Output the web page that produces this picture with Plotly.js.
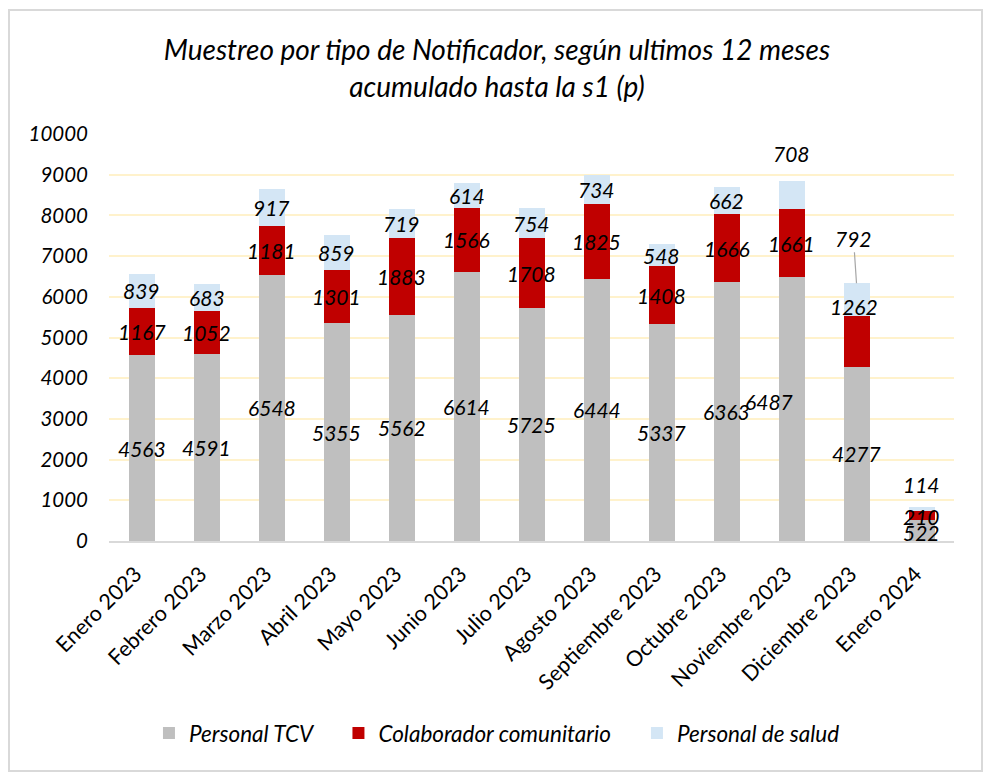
<!DOCTYPE html>
<html>
<head>
<meta charset="utf-8">
<script src="https://cdn.plot.ly/plotly-3.0.1.min.js"></script>
<style>
  html, body { margin: 0; padding: 0; background: #ffffff; }
  #wrap { position: relative; width: 988px; height: 772px; }
  #chart { position: absolute; left: 0; top: 0; width: 988px; height: 772px; }
  #frame { position: absolute; left: 8px; top: 9px; width: 975px; height: 763px;
           box-sizing: border-box; border: 2px solid #D9D9D9; pointer-events: none; }
</style>
</head>
<body>
<div id="wrap">
  <div id="chart"></div>
  <div id="frame"></div>
</div>
<script>
// ---- Data ----
const categories = ["Enero 2023", "Febrero 2023", "Marzo 2023", "Abril 2023", "Mayo 2023",
  "Junio 2023", "Julio 2023", "Agosto 2023", "Septiembre 2023", "Octubre 2023",
  "Noviembre 2023", "Diciembre 2023", "Enero 2024"];
const personalTCV = [4563, 4591, 6548, 5355, 5562, 6614, 5725, 6444, 5337, 6363, 6487, 4277, 522];
const colaboradorComunitario = [1167, 1052, 1181, 1301, 1883, 1566, 1708, 1825, 1408, 1666, 1661, 1262, 210];
const personalSalud = [839, 683, 917, 859, 719, 614, 754, 734, 548, 662, 708, 792, 114];
const seriesNames = ["Personal TCV", "Colaborador comunitario", "Personal de salud"];
const yTicks = [0, 1000, 2000, 3000, 4000, 5000, 6000, 7000, 8000, 9000, 10000];

// ---- Styles ----
const colors = ["#BFBFBF", "#C00000", "#D4E6F5"];
const FONT = "Lato, 'Open Sans', sans-serif";
const labelFont = { family: FONT, size: 21, color: "#000000", style: "italic" };
const legendPad = ["\u00a0\u00a0\u00a0\u00a0", "\u00a0\u00a0\u00a0\u00a0", ""];

const seriesValues = [personalTCV, colaboradorComunitario, personalSalud];

const traces = seriesValues.map((vals, s) => ({
  type: "bar",
  name: seriesNames[s] + legendPad[s],
  x: categories,
  y: vals,
  marker: { color: colors[s], line: { width: 0 } },
  hoverinfo: "skip"
}));

// label manual offsets (pixels) for labels moved in the original: key "series-index"
const labelShift = {
  "2-10": [0, 41],
  "0-10": [-23, 7],
  "1-11": [-3, 35],
  "2-12": [0, 24],
  "1-12": [0, -1],
  "0-12": [0, -2]
};

const annotations = [];
categories.forEach((cat, i) => {
  let base = 0;
  seriesValues.forEach((vals, s) => {
    const v = vals[i];
    const key = s + "-" + i;
    if (s === 2 && i === 11) {
      // leader-line label
      annotations.push({
        x: cat, y: base + v, xref: "x", yref: "y",
        text: String(v), font: labelFont,
        showarrow: true, arrowhead: 0, arrowwidth: 1.2, arrowcolor: "#A6A6A6",
        ax: -3, ay: -45, standoff: 0
      });
    } else {
      const sh = labelShift[key] || [0, 0];
      annotations.push({
        x: cat, y: base + v / 2, xref: "x", yref: "y",
        text: String(v), font: labelFont, showarrow: false,
        xshift: sh[0], yshift: sh[1]
      });
    }
    base += v;
  });
});

const layout = {
  width: 988, height: 772,
  paper_bgcolor: "#ffffff", plot_bgcolor: "#ffffff",
  font: { family: FONT, color: "#000000" },
  barmode: "stack",
  bargap: 0.6,
  margin: { l: 109, r: 33.5, t: 134, b: 231 },
  title: {
    text: "Muestreo por tipo de Notificador, según ultimos 12 meses<br>acumulado hasta la s1 (p)",
    font: { family: FONT, size: 28, color: "#000000", style: "italic" },
    xref: "container", x: 0.503, xanchor: "center",
    yref: "container", y: 0.922, yanchor: "middle"
  },
  xaxis: {
    type: "category",
    tickangle: -45,
    tickfont: { family: FONT, size: 21.5, color: "#000000" },
    showline: true, linecolor: "#D9D9D9", linewidth: 2,
    ticks: "", showgrid: false, zeroline: false,
    ticklabelstandoff: 10,
    ticklabelshift: -6,
    fixedrange: true
  },
  yaxis: {
    range: [0, 10000],
    tickmode: "array", tickvals: yTicks, ticktext: yTicks.map(String),
    tickfont: { family: FONT, size: 20.5, color: "#000000", style: "italic" },
    showgrid: true, gridcolor: "#FFF2CC", gridwidth: 2,
    zeroline: false, showline: false, ticks: "",
    ticklabelstandoff: 20,
    fixedrange: true
  },
  showlegend: true,
  legend: {
    orientation: "h",
    xref: "container", x: 0.503, xanchor: "center",
    yref: "container", y: 0.05, yanchor: "middle",
    font: { family: FONT, size: 22.5, color: "#000000", style: "italic" },
    traceorder: "normal",
    itemclick: false, itemdoubleclick: false
  },
  annotations: annotations
};

Plotly.newPlot("chart", traces, layout, { staticPlot: true, displayModeBar: false });
</script>
</body>
</html>
